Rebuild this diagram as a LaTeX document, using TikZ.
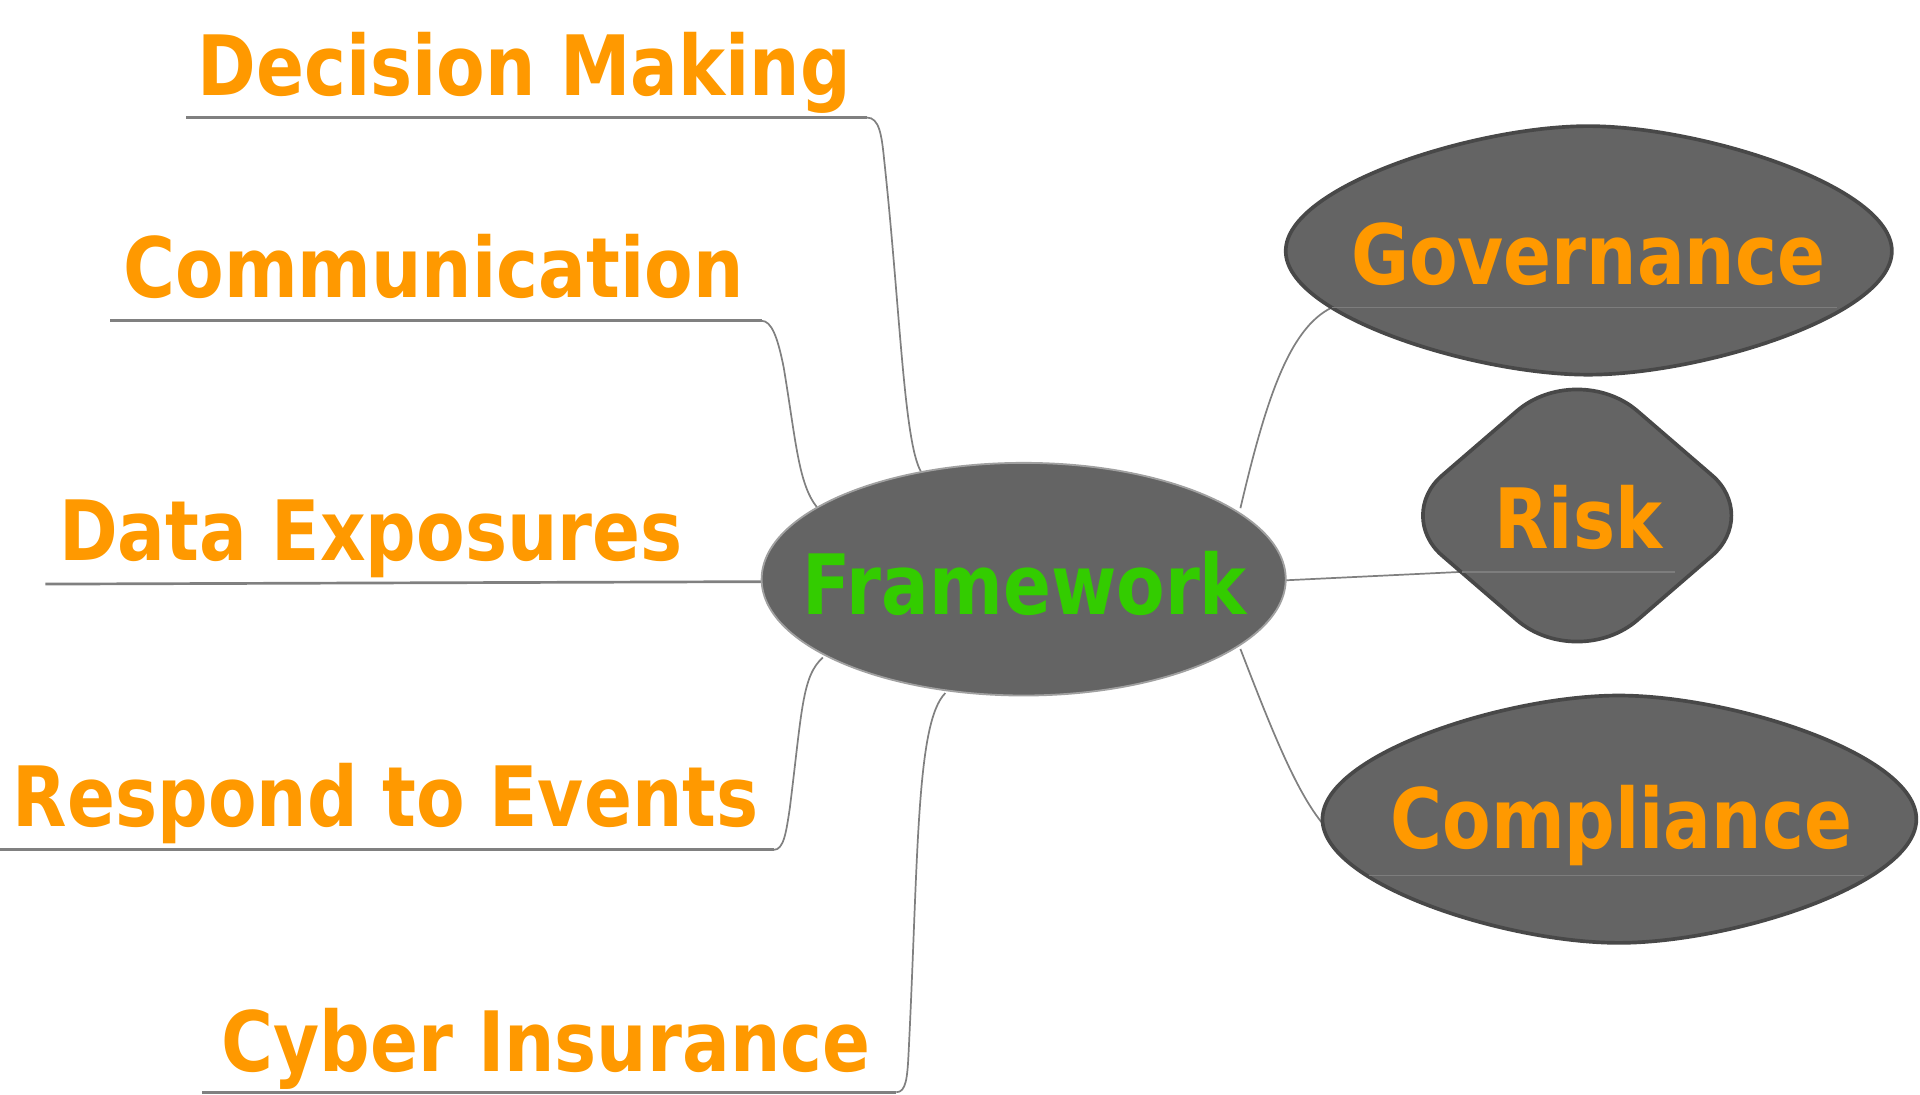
\documentclass[tikz,border=0pt]{standalone}
\usepackage{fontspec}
\usetikzlibrary{shapes.geometric}
\newfontfamily\diafont{DejaVu Sans}[FakeStretch=0.85]
\definecolor{orangeT}{RGB}{255,153,0}
\definecolor{greenT}{RGB}{51,204,0}
\definecolor{nodegray}{RGB}{100,100,100}
\definecolor{bordergray}{RGB}{72,72,72}
\definecolor{fwborder}{RGB}{160,160,160}
\definecolor{linkgray}{RGB}{128,128,128}
\definecolor{innergray}{RGB}{125,125,125}
\tikzset{
  lbl/.style={font={\diafont\bfseries\fontsize{68}{80}\selectfont}, text=orangeT, inner sep=0pt, anchor=base},
  link/.style={draw=linkgray, line width=1.4pt},
  uline/.style={draw=linkgray, line width=2.2pt},
  bubble/.style={fill=nodegray, draw=bordergray, line width=3pt},
  inline/.style={draw=innergray, line width=1.2pt},
}
\begin{document}
\begin{tikzpicture}[x=1pt,y=-1pt]
\useasboundingbox (0,0) rectangle (1568,894);
% anchor coordinates
\coordinate (dmL) at (152,96);   \coordinate (dmR) at (708,96);   \coordinate (fwDM) at (752,385);
\coordinate (coL) at (90,262);   \coordinate (coR) at (622,262);  \coordinate (fwCO) at (667,414);
\coordinate (deL) at (37,477);   \coordinate (fwDE) at (624,475);
\coordinate (reL) at (0,694);    \coordinate (reR) at (632,694);  \coordinate (fwRE) at (672,537);
\coordinate (ciL) at (165,892);  \coordinate (ciR) at (732,892);  \coordinate (fwCI) at (772,566);
\coordinate (fwGO) at (1013,415); \coordinate (goL) at (1088,251); \coordinate (goR) at (1500,251);
\coordinate (fwRI) at (1048,474); \coordinate (riL) at (1194,467); \coordinate (riR) at (1368,467);
\coordinate (fwCM) at (1013,530); \coordinate (cmL) at (1118,715); \coordinate (cmR) at (1522,715);
% left connectors
\draw[uline] (dmL) -- (dmR);
\draw[link] (dmR) .. controls (718,96) and (720,110) .. (722,130) .. controls (735,250) and (738,360) .. (fwDM);
\draw[uline] (coL) -- (coR);
\draw[link] (coR) .. controls (630,262) and (635,275) .. (640,300) .. controls (650,360) and (652,395) .. (fwCO);
\draw[uline] (deL) -- (fwDE);
\draw[uline] (reL) -- (reR);
\draw[link] (reR) .. controls (640,694) and (642,680) .. (645,660) .. controls (655,580) and (655,552) .. (fwRE);
\draw[uline] (ciL) -- (ciR);
\draw[link] (ciR) .. controls (740,892) and (741,880) .. (742,860) .. controls (750,700) and (748,590) .. (fwCI);
% right connectors
\draw[link] (fwGO) .. controls (1033,330) and (1052,268) .. (goL);
\draw[link] (fwRI) -- (riL);
\draw[link] (fwCM) .. controls (1040,600) and (1060,650) .. (1083,676) -- (cmL);
% Framework
\node[ellipse, fill=nodegray, draw=fwborder, line width=1.5pt, minimum width=428pt, minimum height=190pt, inner sep=0pt] (fw) at (836,473) {};
% Governance
\path[bubble] (1050,205) .. controls (1050,152) and (1205,103) .. (1297,103) .. controls (1389,103) and (1545,152) .. (1545,205) .. controls (1545,258) and (1389,306) .. (1297,306) .. controls (1205,306) and (1050,258) .. (1050,205) -- cycle;
\draw[inline] (goL) -- (goR);
% Risk
\path[bubble] (1238.8,335.6) .. controls (1266.0,312.2) and (1310.0,312.2) .. (1337.2,335.6)
  -- (1398.3,388.3) .. controls (1419.2,406.4) and (1419.2,435.6) .. (1398.3,453.7)
  -- (1337.2,506.4) .. controls (1310.0,529.8) and (1266.0,529.8) .. (1238.8,506.4)
  -- (1177.7,453.7) .. controls (1156.8,435.6) and (1156.8,406.4) .. (1177.7,388.3)
  -- cycle;
\draw[inline] (riL) -- (riR);
% Compliance
\path[bubble] (1080,669) .. controls (1080,616) and (1230,568) .. (1322,568) .. controls (1414,568) and (1565,616) .. (1565,669) .. controls (1565,722) and (1414,770) .. (1322,770) .. controls (1230,770) and (1080,722) .. (1080,669) -- cycle;
\draw[inline] (cmL) -- (cmR);
% labels
\node[lbl] (dm) at (428,78) {Decision Making};
\node[lbl] (co) at (354,243) {Communication};
\node[lbl] (de) at (303,458) {Data Exposures};
\node[lbl] (re) at (315,675) {Respond to Events};
\node[lbl] (ci) at (446,875) {Cyber Insurance};
\node[lbl, text=greenT] (fwt) at (837,502) {Framework};
\node[lbl] (go) at (1297,232) {Governance};
\node[lbl] (ri) at (1289,448) {Risk};
\node[lbl] (cm) at (1324,693) {Compliance};
\end{tikzpicture}
\end{document}
